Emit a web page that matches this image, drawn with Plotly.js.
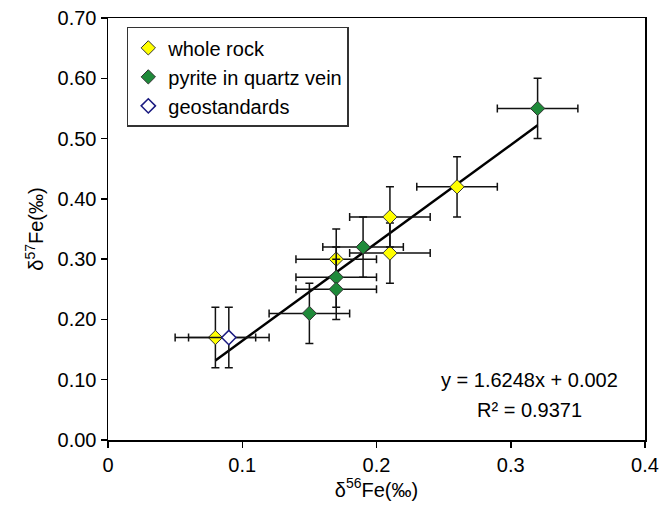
<!DOCTYPE html>
<html>
<head>
<meta charset="utf-8">
<script src="https://cdn.plot.ly/plotly-3.0.1.min.js"></script>
<style>html,body{margin:0;padding:0;background:#fff;}</style>
</head>
<body>
<div id="chart" style="width:660px;height:509px;"></div>
<script>
// Data
const wholeRockX = [0.08, 0.17, 0.21, 0.21, 0.26];
const wholeRockY = [0.17, 0.30, 0.37, 0.31, 0.42];
const pyriteX = [0.32, 0.19, 0.17, 0.17, 0.15];
const pyriteY = [0.55, 0.32, 0.27, 0.25, 0.21];
const geoX = [0.09];
const geoY = [0.17];
const errX = 0.03;
const errY = 0.05;
const slope = 1.6248;
const intercept = 0.002;
const r2 = 0.9371;
const xTicks = [0, 0.1, 0.2, 0.3, 0.4];
const yTicks = [0, 0.1, 0.2, 0.3, 0.4, 0.5, 0.6, 0.7];

const allX = wholeRockX.concat(pyriteX, geoX);
const lineX = [Math.min(...allX), Math.max(...allX)];
const lineY = lineX.map(x => slope * x + intercept);

const FONT = 'Liberation Sans, Arial, sans-serif';
const errStyle = (v) => ({type: 'constant', value: v, color: '#111', thickness: 1.5, width: 4});

const traces = [
  {x: lineX, y: lineY, mode: 'lines', line: {color: '#000', width: 2.5}, showlegend: false, hoverinfo: 'skip'},
  {x: wholeRockX, y: wholeRockY, mode: 'markers', name: 'whole rock',
   marker: {symbol: 'diamond', size: 11, color: '#FFFF00', line: {color: '#333', width: 1}},
   error_x: errStyle(errX), error_y: errStyle(errY)},
  {x: pyriteX, y: pyriteY, mode: 'markers', name: 'pyrite in quartz vein',
   marker: {symbol: 'diamond', size: 11, color: '#1F8A3A', line: {color: '#333', width: 1}},
   error_x: errStyle(errX), error_y: errStyle(errY)},
  {x: geoX, y: geoY, mode: 'markers', name: 'geostandards',
   marker: {symbol: 'diamond', size: 11, color: '#FFFFFF', line: {color: '#1A1A80', width: 1.5}},
   error_x: errStyle(errX), error_y: errStyle(errY)}
];

const layout = {
  width: 660, height: 509,
  margin: {l: 108, r: 15, t: 18, b: 69},
  paper_bgcolor: '#fff', plot_bgcolor: '#fff',
  font: {family: FONT, color: '#000', size: 20},
  showlegend: true,
  legend: {x: 0.035, y: 0.979, xanchor: 'left', yanchor: 'top',
           bordercolor: '#333', borderwidth: 1.5, bgcolor: '#fff',
           font: {family: FONT, size: 20, color: '#000'}, tracegroupgap: 0},
  xaxis: {range: [0, 0.4], tickvals: xTicks, ticktext: xTicks.map(v => String(v)),
          ticks: 'outside', ticklen: 6, tickwidth: 1.5, tickcolor: '#000',
          showline: true, mirror: true, linecolor: '#000', linewidth: 1.5,
          showgrid: false, zeroline: false,
          tickfont: {family: FONT, size: 20},
          title: {text: 'δ<sup>56</sup>Fe(‰)', font: {family: FONT, size: 20}, standoff: 8}},
  yaxis: {range: [0, 0.7], tickvals: yTicks, ticktext: yTicks.map(v => v.toFixed(2)),
          ticks: 'outside', ticklen: 6, tickwidth: 1.5, tickcolor: '#000',
          showline: true, mirror: true, linecolor: '#000', linewidth: 1.5,
          showgrid: false, zeroline: false,
          tickfont: {family: FONT, size: 20},
          title: {text: 'δ<sup>57</sup>Fe(‰)', font: {family: FONT, size: 20}, standoff: 8}},
  annotations: [
    {xref: 'paper', yref: 'paper', x: 0.784, y: 0.142, xanchor: 'center', yanchor: 'middle', showarrow: false,
     text: 'y = ' + slope + 'x + ' + intercept, font: {family: FONT, size: 20}},
    {xref: 'paper', yref: 'paper', x: 0.784, y: 0.071, xanchor: 'center', yanchor: 'middle', showarrow: false,
     text: 'R² = ' + r2, font: {family: FONT, size: 20}}
  ]
};

Plotly.newPlot('chart', traces, layout, {displayModeBar: false, staticPlot: true});
</script>
</body>
</html>
